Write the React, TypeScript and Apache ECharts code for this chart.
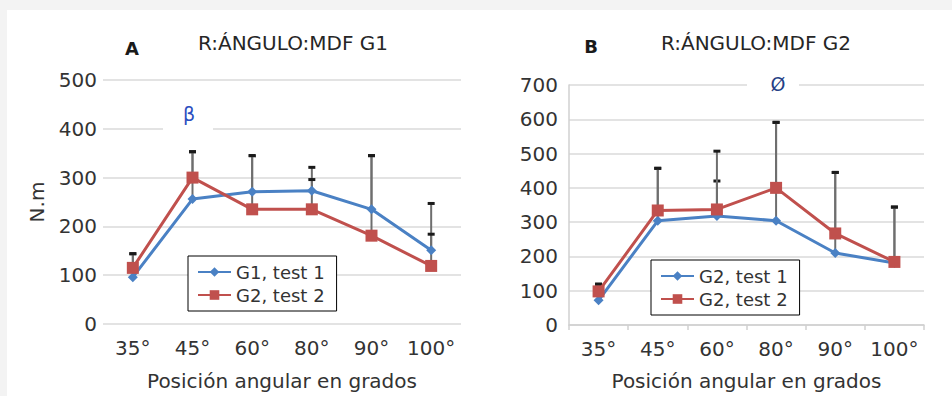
import React, { useEffect, useRef } from "react";
import * as echarts from "echarts";

const categories = ["35°", "45°", "60°", "80°", "90°", "100°"];

const leftNames = ["G1, test 1", "G2, test 2"];
const leftTest1 = [96, 256, 271, 273, 235, 151];
const leftTest2 = [115, 300, 235, 235, 181, 119];
const leftTest1Err = [48, 97, 74, 48, 110, 96];
const leftTest2Err = [29, 53, 110, 61, 164, 65];

const rightNames = ["G2, test 1", "G2, test 2"];
const rightTest1 = [72, 304, 318, 304, 210, 181];
const rightTest2 = [98, 334, 337, 400, 267, 184];
const rightTest1Err = [47, 153, 102, 287, 235, 163];
const rightTest2Err = [21, 123, 170, 191, 178, 160];

const leftTitle = "R:ÁNGULO:MDF G1";
const rightTitle = "R:ÁNGULO:MDF G2";
const xName = "Posición angular en grados";
const yName = "N.m";

const FONT = "DejaVu Sans";
const BLUE = "#4a81c4";
const RED = "#c0504d";
const TXT = "#333333";

function errData(vals: number[], errs: number[]) {
  return vals.map((v, i) => [i, v, v + errs[i]]);
}

const renderErr = (params: any, api: any) => {
  const x = api.value(0);
  const lo = api.coord([x, api.value(1)]);
  const hi = api.coord([x, api.value(2)]);
  return {
    type: "group",
    children: [
      {
        type: "line",
        shape: { x1: lo[0], y1: lo[1], x2: hi[0], y2: hi[1] },
        style: { stroke: "#6e6e6e", lineWidth: 2 },
      },
      {
        type: "line",
        shape: { x1: hi[0] - 3.5, y1: hi[1], x2: hi[0] + 3.5, y2: hi[1] },
        style: { stroke: "#1a1a1a", lineWidth: 3 },
      },
    ],
  };
};

export default function App() {
  const ref = useRef<HTMLDivElement>(null);
  useEffect(() => {
    if (!ref.current) return;
    const chart = echarts.init(ref.current, undefined, { renderer: "svg" });
    const axisLabel = { fontFamily: FONT, fontSize: 20, color: TXT };
    const lineSeries = (name: string, data: number[], idx: number, color: string, symbol: string, size: number) => ({
      type: "line",
      name,
      data,
      xAxisIndex: idx,
      yAxisIndex: idx,
      symbol,
      symbolSize: size,
      lineStyle: { color, width: 3 },
      itemStyle: { color },
      z: 3,
    });
    const errSeries = (vals: number[], errs: number[], idx: number) => ({
      type: "custom",
      xAxisIndex: idx,
      yAxisIndex: idx,
      data: errData(vals, errs),
      encode: { x: 0, y: [1, 2] },
      renderItem: renderErr,
      z: 2,
      silent: true,
    });
    const legendBase = {
      orient: "vertical",
      backgroundColor: "#ffffff",
      borderColor: "#000000",
      borderWidth: 1,
      borderRadius: 0,
      itemWidth: 33,
      itemHeight: 12,
      itemGap: 5,
      textStyle: { fontFamily: FONT, fontSize: 18, color: TXT },
    };
    chart.setOption({
      animation: false,
      backgroundColor: "#f3f3f3",
      legend: [
        { ...legendBase, left: 188, top: 256, padding: [7, 12, 7, 9], data: leftNames },
        { ...legendBase, left: 651, top: 260, padding: [7, 12, 7, 9], data: rightNames },
      ],
      grid: [
        { left: 103, top: 80, width: 358, height: 248 },
        { left: 569, top: 85, width: 355, height: 244 },
      ],
      xAxis: [
        {
          type: "category",
          gridIndex: 0,
          data: categories,
          boundaryGap: true,
          axisLine: { show: false },
          axisTick: { show: false },
          axisLabel: { ...axisLabel, margin: 14, interval: 0, hideOverlap: false },
          name: xName,
          nameLocation: "middle",
          nameGap: 47,
          nameTextStyle: { fontFamily: FONT, fontSize: 20, color: TXT },
        },
        {
          type: "category",
          gridIndex: 1,
          data: categories,
          boundaryGap: true,
          axisLine: { show: true, lineStyle: { color: "#d0d0d0", width: 1.5 } },
          axisTick: { show: true, length: 5, interval: 0, lineStyle: { color: "#d0d0d0", width: 1.5 } },
          axisLabel: { ...axisLabel, margin: 14, interval: 0, hideOverlap: false },
          name: xName,
          nameLocation: "middle",
          nameGap: 46,
          nameTextStyle: { fontFamily: FONT, fontSize: 20, color: TXT },
        },
      ],
      yAxis: [
        {
          type: "value",
          gridIndex: 0,
          min: 0,
          max: 500,
          interval: 100,
          axisLine: { show: false },
          axisTick: { show: false },
          axisLabel: { ...axisLabel, margin: 6 },
          splitLine: { lineStyle: { color: "#dadada", width: 1.5 } },
          name: yName,
          nameLocation: "middle",
          nameRotate: 90,
          nameGap: 56,
          nameTextStyle: { fontFamily: FONT, fontSize: 20, color: TXT },
        },
        {
          type: "value",
          gridIndex: 1,
          min: 0,
          max: 700,
          interval: 100,
          axisLine: { show: true, lineStyle: { color: "#d0d0d0", width: 1.5 } },
          axisTick: { show: false },
          axisLabel: { ...axisLabel, margin: 11 },
          splitLine: { lineStyle: { color: "#dadada", width: 1.5 } },
        },
      ],
      graphic: [
        { type: "rect", shape: { x: 7, y: 10, width: 945, height: 386 }, style: { fill: "#ffffff" }, z: -10 },
        { type: "text", x: 132, y: 48, style: { text: "A", fontFamily: FONT, fontSize: 18, fontWeight: "bold", fill: "#1a1a1a", align: "center", verticalAlign: "middle" } },
        { type: "text", x: 293, y: 43, style: { text: leftTitle, fontFamily: FONT, fontSize: 20, fill: "#262626", align: "center", verticalAlign: "middle" } },
        { type: "text", x: 591, y: 46, style: { text: "B", fontFamily: FONT, fontSize: 18, fontWeight: "bold", fill: "#1a1a1a", align: "center", verticalAlign: "middle" } },
        { type: "text", x: 756, y: 43, style: { text: rightTitle, fontFamily: FONT, fontSize: 20, fill: "#262626", align: "center", verticalAlign: "middle" } },
        { type: "rect", shape: { x: 163, y: 100, width: 50, height: 34 }, style: { fill: "#ffffff" }, z: 10 },
        { type: "text", x: 189, y: 114, style: { text: "β", fontFamily: FONT, fontSize: 19, fill: "#2b4fc0", align: "center", verticalAlign: "middle" }, z: 11 },
        { type: "rect", shape: { x: 747, y: 72, width: 52, height: 22 }, style: { fill: "#ffffff" }, z: 10 },
        { type: "text", x: 778, y: 84, style: { text: "Ø", fontFamily: FONT, fontSize: 19, fill: "#253f86", align: "center", verticalAlign: "middle" }, z: 11 },
      ],
      series: [
        errSeries(leftTest1, leftTest1Err, 0),
        errSeries(leftTest2, leftTest2Err, 0),
        lineSeries(leftNames[0], leftTest1, 0, BLUE, "diamond", 10),
        lineSeries(leftNames[1], leftTest2, 0, RED, "rect", 12),
        errSeries(rightTest1, rightTest1Err, 1),
        errSeries(rightTest2, rightTest2Err, 1),
        lineSeries(rightNames[0], rightTest1, 1, BLUE, "diamond", 10),
        lineSeries(rightNames[1], rightTest2, 1, RED, "rect", 12),
      ],
    });
    return () => chart.dispose();
  }, []);
  return (
    <div
      ref={ref}
      style={{ position: "absolute", left: 0, top: 0, width: 952, height: 396 }}
    />
  );
}
